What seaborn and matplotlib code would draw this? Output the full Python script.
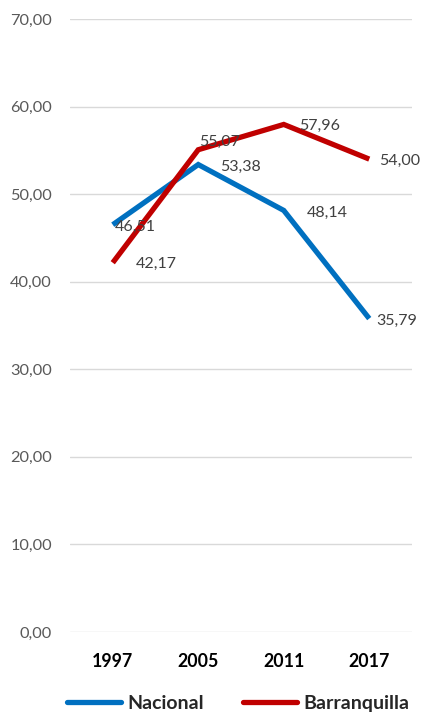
import matplotlib
matplotlib.use("Agg")
import matplotlib.pyplot as plt
import seaborn as sns
import pandas as pd
from matplotlib.lines import Line2D

years = ["1997", "2005", "2011", "2017"]
nacional = [46.51, 53.38, 48.14, 35.79]
barranquilla = [42.17, 55.07, 57.96, 54.00]
series_names = ["Nacional", "Barranquilla"]
y_ticks = [0, 10, 20, 30, 40, 50, 60, 70]

# label offsets in pixels (dx right, dy down) - style only
offsets = {
    "Nacional": [(2, 2), (22, 2), (23, 2), (7, 2)],
    "Barranquilla": [(23, 1), (1, -8), (15, 1), (10, 2)],
}
colors = {"Nacional": "#0070C0", "Barranquilla": "#C00000"}

df = pd.DataFrame({
    "year": years * 2,
    "value": nacional + barranquilla,
    "serie": [series_names[0]] * len(years) + [series_names[1]] * len(years),
})

sns.set_theme(style="white")
plt.rcParams["font.family"] = ["Lato", "DejaVu Sans"]

fig = plt.figure(figsize=(4.25, 7.13), dpi=100)
ax = fig.add_axes([70 / 425, 1 - 632 / 713, 342 / 425, (632 - 19) / 713])

sns.lineplot(data=df, x="year", y="value", hue="serie", palette=colors,
             linewidth=3.8, ax=ax, legend=False, sort=False)
for line in ax.get_lines():
    line.set_solid_capstyle("butt")
    line.set_solid_joinstyle("miter")

for name, vals in zip(series_names, [nacional, barranquilla]):
    for i, v in enumerate(vals):
        dx, dy = offsets[name][i]
        ax.annotate(f"{v:.2f}".replace(".", ","), xy=(i, v),
                    xytext=(dx * 0.72, -dy * 0.72), textcoords="offset points",
                    ha="left", va="center", fontsize=11.5, color="#404040")

ax.set_xlim(-0.5, 3.5)
ax.set_ylim(0, 70)
ax.set_yticks(y_ticks)
ax.set_yticklabels([f"{t:.2f}".replace(".", ",") for t in y_ticks])
ax.grid(axis="y", color="#D9D9D9", linewidth=1)
ax.set_axisbelow(True)
for s in ax.spines.values():
    s.set_visible(False)
ax.tick_params(axis="y", length=0, pad=13, labelsize=11.8, labelcolor="#595959")
ax.tick_params(axis="x", length=0, pad=15, labelsize=12.8)
for lbl in ax.get_xticklabels():
    lbl.set_fontweight("bold")
    lbl.set_color("black")
ax.set_xlabel("")
ax.set_ylabel("")

handles = [Line2D([0], [0], color=colors[n], linewidth=3.8) for n in series_names]
leg = fig.legend(handles, series_names, loc="center", bbox_to_anchor=(0.56, 0.014),
                 ncol=2, frameon=False, handlelength=2.8, handletextpad=0.3,
                 columnspacing=2.0, prop={"family": ["Lato", "DejaVu Sans"], "weight": "bold", "size": 14})

fig.savefig("out.png", dpi=100)
